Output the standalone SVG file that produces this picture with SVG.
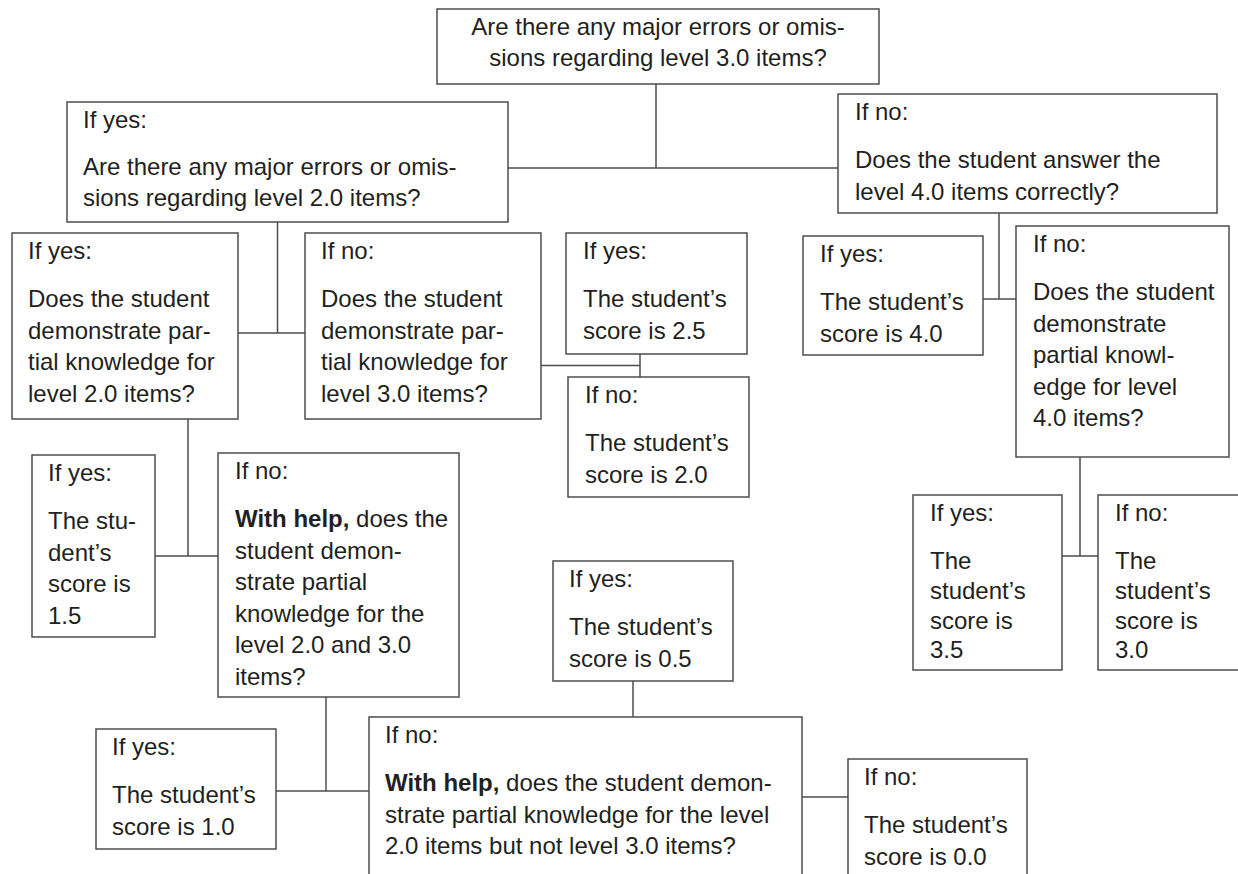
<svg xmlns="http://www.w3.org/2000/svg" width="1238" height="874" viewBox="0 0 1238 874">
<style>
.b{fill:#fff;stroke:#4d4d4d;stroke-width:1.5}
.c{fill:none;stroke:#4d4d4d;stroke-width:1.5}
text{font-family:"Liberation Sans",Arial,sans-serif;font-size:24px;fill:#231f20}
.m{text-anchor:middle}
.k{font-weight:bold}
</style>
<rect width="1238" height="874" fill="#fff"/>
<g id="connectors">
<path class="c" d="M656 84V168M508 168H838"/>
<path class="c" d="M277.5 222V333M238 333H305"/>
<path class="c" d="M541 365.5H640M640 354V377"/>
<path class="c" d="M999 213V299M983 299H1016"/>
<path class="c" d="M1080 457V556M1062 556H1098"/>
<path class="c" d="M188 419V556M155 556H218"/>
<path class="c" d="M326 697V791M276 791H369"/>
<path class="c" d="M633 681V717"/>
<path class="c" d="M802 797H848"/>
</g>
<g id="n_top">
<rect class="b" x="437" y="9" width="442" height="75"/>
<text class="m" x="658" y="35">Are there any major errors or omis-</text>
<text class="m" x="658" y="66">sions regarding level 3.0 items?</text>
</g>
<g id="n_q20">
<rect class="b" x="67" y="102" width="441" height="120"/>
<text x="83" y="128">If yes:</text>
<text x="83" y="175">Are there any major errors or omis-</text>
<text x="83" y="206">sions regarding level 2.0 items?</text>
</g>
<g id="n_q40">
<rect class="b" x="838" y="94" width="379" height="119"/>
<text x="855" y="120">If no:</text>
<text x="855" y="168">Does the student answer the</text>
<text x="855" y="199.5">level 4.0 items correctly?</text>
</g>
<g id="n_partial20">
<rect class="b" x="12" y="233" width="226" height="186"/>
<text x="28" y="259">If yes:</text>
<text x="28" y="307">Does the student</text>
<text x="28" y="338.5">demonstrate par-</text>
<text x="28" y="370">tial knowledge for</text>
<text x="28" y="401.5">level 2.0 items?</text>
</g>
<g id="n_partial30">
<rect class="b" x="305" y="233" width="236" height="186"/>
<text x="321" y="259">If no:</text>
<text x="321" y="307">Does the student</text>
<text x="321" y="338.5">demonstrate par-</text>
<text x="321" y="370">tial knowledge for</text>
<text x="321" y="401.5">level 3.0 items?</text>
</g>
<g id="n_25">
<rect class="b" x="566" y="233" width="181" height="121"/>
<text x="583" y="259">If yes:</text>
<text x="583" y="307">The student’s</text>
<text x="583" y="338.5">score is 2.5</text>
</g>
<g id="n_20">
<rect class="b" x="568" y="377" width="181" height="120"/>
<text x="585" y="403">If no:</text>
<text x="585" y="451">The student’s</text>
<text x="585" y="482.5">score is 2.0</text>
</g>
<g id="n_40">
<rect class="b" x="803" y="236" width="180" height="119"/>
<text x="820" y="262">If yes:</text>
<text x="820" y="310">The student’s</text>
<text x="820" y="341.5">score is 4.0</text>
</g>
<g id="n_partial40">
<rect class="b" x="1016" y="226" width="213" height="231"/>
<text x="1033" y="252">If no:</text>
<text x="1033" y="300">Does the student</text>
<text x="1033" y="331.5">demonstrate</text>
<text x="1033" y="363">partial knowl-</text>
<text x="1033" y="394.5">edge for level</text>
<text x="1033" y="426">4.0 items?</text>
</g>
<g id="n_35">
<rect class="b" x="913" y="495" width="149" height="175"/>
<text x="930" y="521">If yes:</text>
<text x="930" y="569">The</text>
<text x="930" y="599">student’s</text>
<text x="930" y="629">score is</text>
<text x="930" y="658">3.5</text>
</g>
<g id="n_30">
<rect class="b" x="1098" y="495" width="150" height="175"/>
<text x="1115" y="521">If no:</text>
<text x="1115" y="569">The</text>
<text x="1115" y="599">student’s</text>
<text x="1115" y="629">score is</text>
<text x="1115" y="658">3.0</text>
</g>
<g id="n_15">
<rect class="b" x="32" y="455" width="123" height="182"/>
<text x="48" y="481">If yes:</text>
<text x="48" y="529">The stu-</text>
<text x="48" y="560.5">dent’s</text>
<text x="48" y="592">score is</text>
<text x="48" y="623.5">1.5</text>
</g>
<g id="n_help23">
<rect class="b" x="218" y="453" width="241" height="244"/>
<text x="235" y="479">If no:</text>
<text x="235" y="527"><tspan class="k">With help,</tspan> does the</text>
<text x="235" y="558.5">student demon-</text>
<text x="235" y="590">strate partial</text>
<text x="235" y="621.5">knowledge for the</text>
<text x="235" y="653">level 2.0 and 3.0</text>
<text x="235" y="684.5">items?</text>
</g>
<g id="n_05">
<rect class="b" x="553" y="561" width="180" height="120"/>
<text x="569" y="587">If yes:</text>
<text x="569" y="635">The student’s</text>
<text x="569" y="666.5">score is 0.5</text>
</g>
<g id="n_10">
<rect class="b" x="96" y="729" width="180" height="120"/>
<text x="112" y="755">If yes:</text>
<text x="112" y="803">The student’s</text>
<text x="112" y="834.5">score is 1.0</text>
</g>
<g id="n_help2">
<rect class="b" x="369" y="717" width="433" height="170"/>
<text x="385" y="743">If no:</text>
<text x="385" y="791"><tspan class="k">With help,</tspan> does the student demon-</text>
<text x="385" y="822.5">strate partial knowledge for the level</text>
<text x="385" y="854">2.0 items but not level 3.0 items?</text>
</g>
<g id="n_00">
<rect class="b" x="848" y="759" width="179" height="130"/>
<text x="864" y="785">If no:</text>
<text x="864" y="833">The student’s</text>
<text x="864" y="864.5">score is 0.0</text>
</g>
</svg>
